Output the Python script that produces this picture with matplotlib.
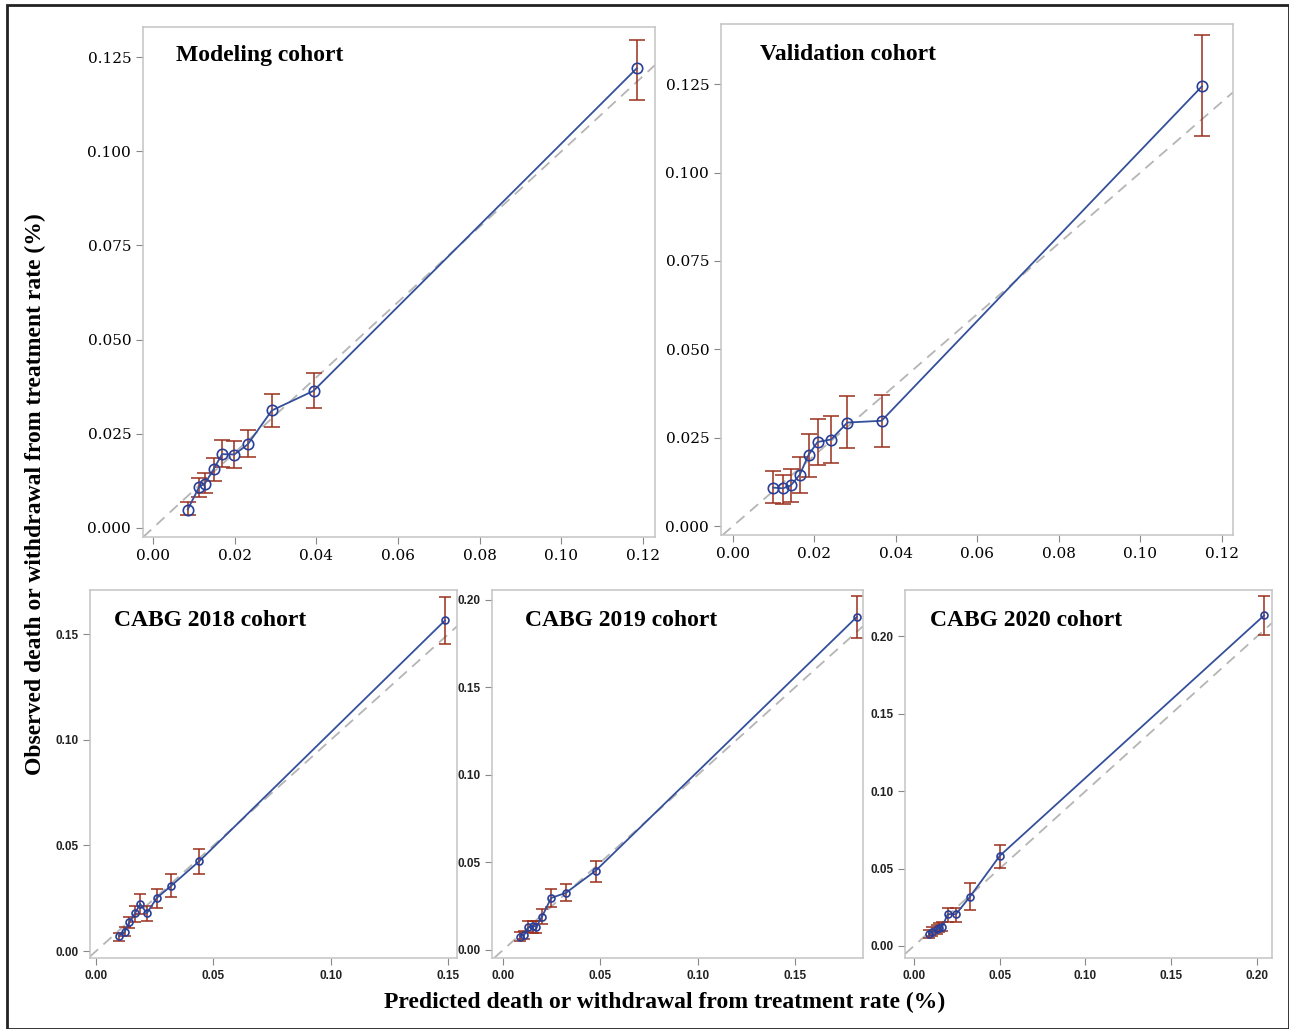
import matplotlib.pyplot as plt
from matplotlib.patches import Rectangle
from matplotlib.ticker import FormatStrFormatter

# Modeling cohort
mod_pred = [0.0085, 0.0113, 0.0127, 0.0149, 0.0169, 0.0199, 0.0232, 0.0291, 0.0393, 0.1185]
mod_obs = [0.0049, 0.0109, 0.0118, 0.0157, 0.0196, 0.0195, 0.0222, 0.0312, 0.0364, 0.1221]
mod_lo = [0.0034, 0.0081, 0.0092, 0.0126, 0.0163, 0.0160, 0.0188, 0.0269, 0.0319, 0.1136]
mod_hi = [0.0068, 0.0132, 0.0145, 0.0187, 0.0234, 0.0231, 0.0260, 0.0355, 0.0412, 0.1295]

# Validation cohort
val_pred = [0.0099, 0.0123, 0.0142, 0.0164, 0.0186, 0.0208, 0.0241, 0.0281, 0.0365, 0.1151]
val_obs = [0.0109, 0.0107, 0.0115, 0.0145, 0.0202, 0.0238, 0.0245, 0.0293, 0.0298, 0.1244]
val_lo = [0.0066, 0.0062, 0.0069, 0.0094, 0.0138, 0.0172, 0.0179, 0.0220, 0.0223, 0.1103]
val_hi = [0.0156, 0.0146, 0.0163, 0.0196, 0.0260, 0.0303, 0.0311, 0.0368, 0.0370, 0.1389]

# CABG 2018 cohort
c18_pred = [0.0097, 0.0122, 0.0142, 0.0166, 0.0188, 0.0216, 0.0259, 0.0320, 0.0440, 0.1487]
c18_obs = [0.0071, 0.0092, 0.0138, 0.0179, 0.0223, 0.0179, 0.0252, 0.0309, 0.0426, 0.1566]
c18_lo = [0.0049, 0.0071, 0.0108, 0.0139, 0.0176, 0.0143, 0.0203, 0.0255, 0.0365, 0.1452]
c18_hi = [0.0087, 0.0112, 0.0163, 0.0214, 0.0270, 0.0214, 0.0294, 0.0364, 0.0483, 0.1675]

# CABG 2019 cohort
c19_pred = [0.0087, 0.0109, 0.0130, 0.0153, 0.0171, 0.0200, 0.0247, 0.0324, 0.0476, 0.1818]
c19_obs = [0.0076, 0.0086, 0.0130, 0.0137, 0.0133, 0.0190, 0.0297, 0.0327, 0.0453, 0.1903]
c19_lo = [0.0053, 0.0063, 0.0105, 0.0099, 0.0099, 0.0149, 0.0244, 0.0282, 0.0389, 0.1783]
c19_hi = [0.0103, 0.0107, 0.0166, 0.0166, 0.0163, 0.0233, 0.0347, 0.0377, 0.0510, 0.2023]

# CABG 2020 cohort
c20_pred = [0.0088, 0.0105, 0.0132, 0.0148, 0.0165, 0.0197, 0.0245, 0.0327, 0.0501, 0.2041]
c20_obs = [0.0076, 0.0091, 0.0108, 0.0118, 0.0125, 0.0205, 0.0205, 0.0319, 0.0583, 0.2136]
c20_lo = [0.0050, 0.0062, 0.0078, 0.0088, 0.0095, 0.0155, 0.0155, 0.0233, 0.0505, 0.2006]
c20_hi = [0.0102, 0.0120, 0.0138, 0.0148, 0.0155, 0.0246, 0.0246, 0.0408, 0.0654, 0.2259]

BLUE = "#34509a"
RED = "#9a2f1c"
GRID = "#c4c4c4"

W, H = 1289, 1029
fig = plt.figure(figsize=(W / 100, H / 100), dpi=100)
fig.patches.append(Rectangle((7 / W, 0), 1 - 7 / W, 1 - 5 / H, transform=fig.transFigure,
                             fill=False, edgecolor="#222222", linewidth=2))


def box(l, r, t, b):
    return [l / W, 1 - b / H, (r - l) / W, (b - t) / H]


def panel(rect, title, tpos, pred, obs, lo, hi, xlim, ylim, xticks, yticks, xfmt, yfmt, big):
    ax = fig.add_axes(rect)
    ax.axline((0, 0), slope=1, color="#b5b5b5", linestyle=(0, (6, 4)), linewidth=1.3, zorder=1)
    yerr = [[o - l for o, l in zip(obs, lo)], [h - o for o, h in zip(obs, hi)]]
    ax.errorbar(pred, obs, yerr=yerr, fmt="none", ecolor=RED, elinewidth=1.1,
                capsize=6 if big else 4.5, capthick=1.1, zorder=2)
    ax.plot(pred, obs, color=BLUE, linewidth=1.3, marker="o", markersize=7.5 if big else 5,
            markerfacecolor="none", markeredgecolor="#2a3f98", markeredgewidth=1.2, zorder=3)
    ax.set_xlim(*xlim)
    ax.set_ylim(*ylim)
    ax.set_xticks(xticks)
    ax.set_yticks(yticks)
    ax.xaxis.set_major_formatter(FormatStrFormatter(xfmt))
    ax.yaxis.set_major_formatter(FormatStrFormatter(yfmt))
    for s in ax.spines.values():
        s.set_color(GRID)
        s.set_linewidth(1.1)
    ax.tick_params(colors="#888888", length=5, width=0.8)
    if big:
        for lab in ax.get_xticklabels() + ax.get_yticklabels():
            lab.set_fontfamily("DejaVu Serif")
            lab.set_fontsize(11)
            lab.set_color("black")
    else:
        for lab in ax.get_xticklabels() + ax.get_yticklabels():
            lab.set_fontfamily("Liberation Sans")
            lab.set_fontweight("bold")
            lab.set_fontsize(8.5)
            lab.set_color("#222222")
    ax.text(tpos[0], tpos[1], title, transform=ax.transAxes, ha="left", va="center",
            fontfamily="Liberation Serif", fontweight="bold", fontsize=17)
    return ax


panel(box(143, 655, 27, 537), "Modeling cohort", (0.064, 0.945),
      mod_pred, mod_obs, mod_lo, mod_hi,
      (-0.00245, 0.1229), (-0.0024, 0.133), [0, 0.02, 0.04, 0.06, 0.08, 0.10, 0.12],
      [0, 0.025, 0.05, 0.075, 0.10, 0.125], "%.2f", "%.3f", True)
panel(box(721, 1233, 24, 535), "Validation cohort", (0.076, 0.941),
      val_pred, val_obs, val_lo, val_hi,
      (-0.0029, 0.1227), (-0.0025, 0.142), [0, 0.02, 0.04, 0.06, 0.08, 0.10, 0.12],
      [0, 0.025, 0.05, 0.075, 0.10, 0.125], "%.2f", "%.3f", True)
panel(box(90, 457, 590, 958), "CABG 2018 cohort", (0.065, 0.917),
      c18_pred, c18_obs, c18_lo, c18_hi,
      (-0.0026, 0.1538), (-0.0033, 0.171), [0, 0.05, 0.10, 0.15],
      [0, 0.05, 0.10, 0.15], "%.2f", "%.2f", False)
panel(box(492, 863, 590, 958), "CABG 2019 cohort", (0.089, 0.917),
      c19_pred, c19_obs, c19_lo, c19_hi,
      (-0.0057, 0.185), (-0.0046, 0.2057), [0, 0.05, 0.10, 0.15],
      [0, 0.05, 0.10, 0.15, 0.20], "%.2f", "%.2f", False)
panel(box(905, 1272, 590, 958), "CABG 2020 cohort", (0.068, 0.917),
      c20_pred, c20_obs, c20_lo, c20_hi,
      (-0.0052, 0.2087), (-0.0078, 0.230), [0, 0.05, 0.10, 0.15, 0.20],
      [0, 0.05, 0.10, 0.15, 0.20], "%.2f", "%.2f", False)

fig.text(35 / W, 1 - 494 / H, "Observed death or withdrawal from treatment rate (%)",
         rotation=90, ha="center", va="center", fontfamily="Liberation Serif",
         fontweight="bold", fontsize=17)
fig.text(665 / W, 1 - 1002 / H, "Predicted death or withdrawal from treatment rate (%)",
         ha="center", va="center", fontfamily="Liberation Serif", fontweight="bold", fontsize=17)

fig.savefig("out.png", dpi=100)
